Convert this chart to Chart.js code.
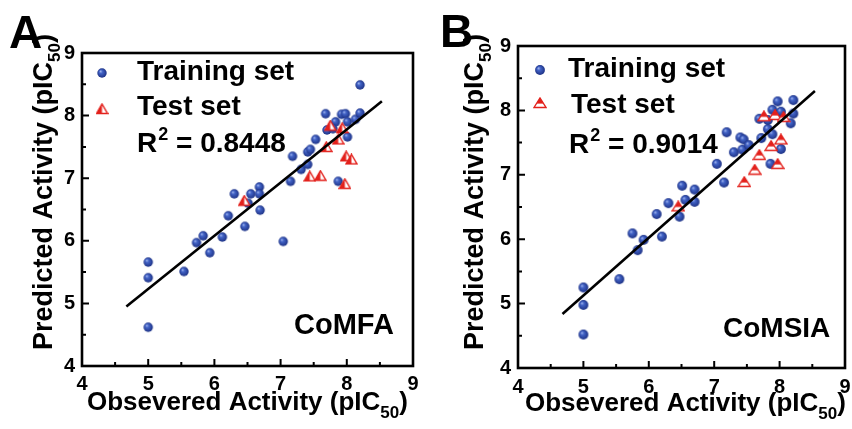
<!DOCTYPE html>
<html><head><meta charset="utf-8">
<script src="https://cdn.jsdelivr.net/npm/chart.js@4/dist/chart.umd.min.js"></script>
<style>
html,body{margin:0;padding:0;background:#fff;}
#wrap{position:relative;width:852px;height:429px;overflow:hidden;background:#fff;}
.pane{position:absolute;top:0;width:426px;height:429px;}
#pa{left:0;} #pb{left:426px;}
canvas{display:block;}
</style></head><body>
<div id="wrap">
  <div class="pane" id="pa"><canvas id="ca" width="426" height="429"></canvas></div>
  <div class="pane" id="pb"><canvas id="cb" width="426" height="429"></canvas></div>
</div>
<script>
// ---- data ----
const majorTicks = [4, 5, 6, 7, 8, 9];
const minorTicks = [4.5, 5.5, 6.5, 7.5, 8.5];

const comfaTrainObs  = [5.00,5.00,5.00,5.54,5.73,5.83,5.93,6.12,6.21,6.30,6.46,6.55,6.51,6.68,6.68,6.69,7.04,7.15,7.18,7.31,7.41,7.41,7.45,7.53,7.68,7.70,7.83,7.87,7.92,7.98,8.01,8.01,8.13,8.20,8.20,7.79];
const comfaTrainPred = [4.62,5.66,5.41,5.51,5.97,6.08,5.81,6.06,6.40,6.75,6.23,6.75,6.60,6.86,6.75,6.49,5.99,6.95,7.35,7.14,7.22,7.42,7.46,7.62,8.03,7.77,7.90,6.95,8.02,8.03,7.90,7.66,7.94,8.04,8.49,7.79];
const comfaTestObs   = [6.45,7.44,7.60,7.69,7.75,7.87,7.93,7.99,8.07,7.97];
const comfaTestPred  = [6.64,7.03,7.04,7.50,7.84,7.62,7.80,7.35,7.30,6.91];
const comfaFitObs    = [4.67, 8.53];
const comfaFitPred   = [4.95, 8.23];

const comsiaTrainObs  = [5.00,5.00,5.00,5.55,5.75,5.83,5.92,6.12,6.20,6.30,6.47,6.51,6.56,6.70,6.70,7.04,7.15,7.19,7.30,7.40,7.45,7.43,7.53,7.72,7.69,7.82,7.89,7.89,7.86,7.97,7.99,8.02,8.02,8.17,8.21,8.21,7.82];
const comsiaTrainPred = [4.52,4.98,5.25,5.38,6.09,5.83,5.99,6.39,6.04,6.56,6.35,6.83,6.61,6.77,6.58,7.17,6.88,7.66,7.35,7.58,7.55,7.39,7.46,7.57,7.87,7.71,8.01,7.63,7.17,8.14,7.93,7.98,7.40,7.80,8.16,7.95,7.85];
const comsiaTestObs   = [6.45,7.46,7.62,7.69,7.76,7.87,7.93,7.97,8.02,8.06];
const comsiaTestPred  = [6.51,6.89,7.08,7.31,7.91,7.45,7.93,7.17,7.55,7.90];
const comsiaFitObs    = [4.68, 8.54];
const comsiaFitPred   = [4.84, 8.30];

// ---- styling helpers ----
const F = "'Liberation Sans', Arial, Helvetica, sans-serif";
const RED = '#e3211c';

function ballSprite(r) {
  const s = Math.ceil(2 * r + 2), c = document.createElement('canvas');
  c.width = s; c.height = s;
  const g = c.getContext('2d'), m = s / 2;
  const gr = g.createRadialGradient(m - r * 0.35, m - r * 0.4, 0, m, m, r * 1.05);
  gr.addColorStop(0, '#aabdf2'); gr.addColorStop(0.35, '#4263c6'); gr.addColorStop(1, '#1b2f82');
  g.fillStyle = gr; g.beginPath(); g.arc(m, m, r, 0, Math.PI * 2); g.fill();
  return c;
}
function triSprite(w, h, mode) {
  const c = document.createElement('canvas');
  c.width = w + 2; c.height = h + 2;
  const g = c.getContext('2d');
  const path = () => { g.beginPath(); g.moveTo(1, h + 0.5); g.lineTo(1 + w / 2, 1); g.lineTo(w + 1, h + 0.5); g.closePath(); };
  path(); g.fillStyle = '#fff'; g.fill();
  g.save(); path(); g.clip();
  g.fillStyle = RED;
  if (mode === 'left') g.fillRect(0, 0, 1 + w / 2, h + 2);
  else g.fillRect(0, 0, w + 2, (h + 2) * 0.55);
  g.restore();
  path(); g.strokeStyle = RED; g.lineWidth = 1.4; g.stroke();
  return c;
}

const decor = {
  id: 'decor',
  afterDraw(chart, args, o) {
    const {ctx, chartArea: a, scales: {x, y}} = chart;
    ctx.save();
    // inward ticks
    ctx.strokeStyle = '#000'; ctx.lineWidth = 2;
    ctx.beginPath();
    const tick = (v, len) => {
      const px = x.getPixelForValue(v); ctx.moveTo(px, a.bottom); ctx.lineTo(px, a.bottom - len);
      const py = y.getPixelForValue(v); ctx.moveTo(a.left, py); ctx.lineTo(a.left + len, py);
    };
    majorTicks.forEach(v => tick(v, 7));
    minorTicks.forEach(v => tick(v, 4));
    ctx.stroke();
    // frame
    ctx.lineWidth = 2.6;
    ctx.strokeRect(a.left, a.top, a.right - a.left, a.bottom - a.top);

    ctx.fillStyle = '#000';
    ctx.textBaseline = 'alphabetic'; ctx.textAlign = 'left';
    // panel letter
    ctx.font = `bold 46px ${F}`;
    ctx.fillText(o.letter, o.letterX, o.letterY);
    // legend
    ctx.drawImage(o.ball, o.dotX - o.ball.width / 2, o.dotY - o.ball.height / 2);
    ctx.drawImage(o.tri, o.dotX - o.tri.width / 2, o.triY - o.tri.height / 2);
    ctx.font = `bold 28px ${F}`;
    ctx.fillText('Training set', o.trX, o.trY);
    ctx.fillText('Test set', o.teX, o.teY);
    // R^2
    let cx = o.rX;
    ctx.fillText('R', cx, o.rY); cx += ctx.measureText('R').width + 1;
    ctx.font = `bold 18px ${F}`;
    ctx.fillText('2', cx, o.rY - 12); cx += ctx.measureText('2').width;
    ctx.font = `bold 28px ${F}`;
    ctx.fillText(' = ' + o.r2, cx, o.rY);
    // method label
    ctx.font = `bold ${o.mSize}px ${F}`;
    ctx.fillText(o.method, o.mX, o.mY);
    // axis titles with subscripts
    const titled = (main, tx, ty, size) => {
      let p = tx;
      ctx.font = `bold ${size}px ${F}`;
      ctx.fillText(main, p, ty); p += ctx.measureText(main).width;
      ctx.font = `bold 17px ${F}`;
      ctx.fillText('50', p, ty + 8); p += ctx.measureText('50').width;
      ctx.font = `bold ${size}px ${F}`;
      ctx.fillText(')', p, ty);
    };
    titled('Obsevered Activity (pIC', o.xtX, o.xtY, 26);
    ctx.save();
    ctx.translate(o.ytX, o.ytY); ctx.rotate(-Math.PI / 2);
    titled('Predicted Activity (pIC', 0, 0, 27);
    ctx.restore();
    ctx.restore();
  }
};

function pts(xs, ys) { return xs.map((v, i) => ({x: v, y: ys[i]})); }

function makeChart(id, d, geo, deco) {
  return new Chart(document.getElementById(id), {
    type: 'scatter',
    data: {
      datasets: [
        { type: 'line', data: pts(d.fitX, d.fitY), borderColor: '#000', borderWidth: 2.6, pointRadius: 0, fill: false, tension: 0 },
        { data: pts(d.testX, d.testY), pointStyle: deco.tri, pointRadius: 6 },
        { data: pts(d.trainX, d.trainY), pointStyle: deco.ball, pointRadius: 5 }
      ]
    },
    options: {
      responsive: false, animation: false, devicePixelRatio: 1,
      layout: { padding: { top: geo.top, right: geo.right, left: 0, bottom: 0 } },
      plugins: { legend: { display: false }, tooltip: { enabled: false }, decor: deco },
      scales: {
        x: {
          type: 'linear', min: 4, max: 9,
          afterBuildTicks: s => { s.ticks = majorTicks.map(v => ({value: v})); },
          afterFit: s => { s.height = geo.xh; s.paddingLeft = 0; s.paddingRight = 0; },
          grid: { display: false, drawTicks: false }, border: { display: false },
          ticks: { font: { family: F, size: 20, weight: 'bold' }, color: '#000', padding: geo.xpad, maxRotation: 0 }
        },
        y: {
          type: 'linear', min: 4, max: 9,
          afterBuildTicks: s => { s.ticks = majorTicks.map(v => ({value: v})); },
          afterFit: s => { s.width = geo.yw; s.paddingTop = 0; s.paddingBottom = 0; },
          grid: { display: false, drawTicks: false }, border: { display: false },
          ticks: { font: { family: F, size: 20, weight: 'bold' }, color: '#000', padding: 7 }
        }
      }
    },
    plugins: [decor]
  });
}

makeChart('ca',
  { trainX: comfaTrainObs, trainY: comfaTrainPred, testX: comfaTestObs, testY: comfaTestPred, fitX: comfaFitObs, fitY: comfaFitPred },
  { top: 53, right: 13, xh: 63, yw: 82, xpad: 6 },
  { letter: 'A', letterX: 9, letterY: 48, ball: ballSprite(4.7), tri: triSprite(11, 10, 'left'),
    dotX: 102, dotY: 73, triY: 109, trX: 137, trY: 80, teX: 137, teY: 115, rX: 137, rY: 152, r2: '0.8448',
    method: 'CoMFA', mSize: 29, mX: 294, mY: 334, xtX: 87, xtY: 410, ytX: 52, ytY: 350 });

makeChart('cb',
  { trainX: comsiaTrainObs, trainY: comsiaTrainPred, testX: comsiaTestObs, testY: comsiaTestPred, fitX: comsiaFitObs, fitY: comsiaFitPred },
  { top: 46, right: 4, xh: 61, yw: 92, xpad: 7 },
  { letter: 'B', letterX: 14, letterY: 47, ball: ballSprite(4.9), tri: triSprite(12, 10, 'top'),
    dotX: 114, dotY: 70, triY: 103, trX: 142, trY: 77, teX: 145, teY: 113, rX: 143, rY: 153, r2: '0.9014',
    method: 'CoMSIA', mSize: 28, mX: 297, mY: 337, xtX: 99, xtY: 411, ytX: 57, ytY: 350 });
</script>
</body></html>
